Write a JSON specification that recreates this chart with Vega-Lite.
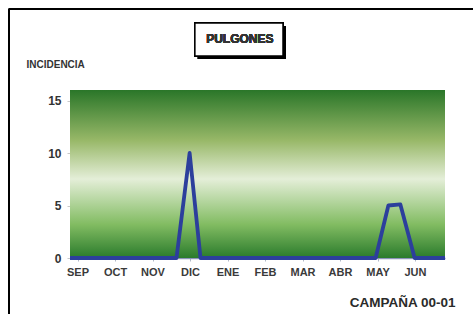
{
  "$schema": "https://vega.github.io/schema/vega-lite/v6.json",
  "width": 375,
  "height": 168,
  "autosize": {"type": "none"},
  "padding": {"left": 70, "top": 90, "right": 28, "bottom": 56},
  "background": "white",
  "config": {"view": {"stroke": null}, "font": "Liberation Sans"},
  "data": {"values": [
    {"t": -0.2, "incidencia": 0},
    {"t": 2.64, "incidencia": 0},
    {"t": 2.99, "incidencia": 10},
    {"t": 3.28, "incidencia": 0},
    {"t": 7.95, "incidencia": 0},
    {"t": 8.29, "incidencia": 5},
    {"t": 8.61, "incidencia": 5.1},
    {"t": 8.99, "incidencia": 0},
    {"t": 9.8, "incidencia": 0}
  ]},
  "layer": [
    {
      "mark": {"type": "rect", "fill": {"gradient": "linear", "x1": 0, "y1": 0, "x2": 0, "y2": 1, "stops": [
        {"offset": 0, "color": "#2a7629"},
        {"offset": 0.3, "color": "#98b868"},
        {"offset": 0.53, "color": "#e4eed8"},
        {"offset": 0.8, "color": "#82bc62"},
        {"offset": 1, "color": "#2a7b2c"}
      ]}},
      "encoding": {
        "x": {"datum": -0.2, "type": "quantitative"},
        "x2": {"datum": 9.8},
        "y": {"datum": 0, "type": "quantitative"},
        "y2": {"datum": 16}
      }
    },
    {
      "mark": {"type": "line", "color": "#2c3f9c", "strokeWidth": 3.8, "strokeJoin": "round"},
      "encoding": {
        "x": {"field": "t", "type": "quantitative",
          "scale": {"domain": [-0.2, 9.8], "nice": false, "zero": false},
          "axis": {"values": [0, 1, 2, 3, 4, 5, 6, 7, 8, 9],
            "labelExpr": "['SEP','OCT','NOV','DIC','ENE','FEB','MAR','ABR','MAY','JUN'][datum.value]",
            "grid": false, "domainColor": "#8a93b8", "domainWidth": 1.5, "tickColor": "#b0b8c8", "tickSize": 3,
            "labelFont": "Liberation Sans", "labelFontWeight": "bold", "labelFontSize": 11, "labelColor": "#3a3a3a", "labelPadding": 5,
            "title": "CAMPAÑA 00-01", "titleFont": "Liberation Sans", "titleFontSize": 13.5, "titleFontWeight": "bold", "titleColor": "#2a2a2a",
            "titleAnchor": null, "titleAlign": "right", "titleX": 385, "titleY": 44, "titleBaseline": "middle"}
        },
        "y": {"field": "incidencia", "type": "quantitative",
          "scale": {"domain": [0, 16], "nice": false},
          "axis": {"values": [0, 5, 10, 15], "grid": false, "domainColor": "#c8c8b0", "tickColor": "#c8c8c8", "tickSize": 3,
            "labelFont": "Liberation Sans", "labelFontWeight": "bold", "labelFontSize": 12, "labelColor": "#333", "labelPadding": 6,
            "title": "INCIDENCIA", "titleFont": "Liberation Sans", "titleFontSize": 10, "titleFontWeight": "bold", "titleColor": "#333",
            "titleAngle": 0, "titleAlign": "left", "titleBaseline": "middle", "titleX": -44, "titleY": -26}
        }
      }
    },
    {
      "mark": {"type": "rule", "color": "black", "strokeWidth": 1.5},
      "encoding": {
        "x": {"datum": -1.83, "type": "quantitative"},
        "y": {"datum": 23.71, "type": "quantitative"},
        "y2": {"datum": -6}
      }
    },
    {
      "mark": {"type": "rule", "color": "black", "strokeWidth": 1.5},
      "encoding": {
        "x": {"datum": -1.83, "type": "quantitative"},
        "x2": {"datum": 10.6},
        "y": {"datum": 23.71, "type": "quantitative"}
      }
    },
    {
      "mark": {"type": "rect", "fill": "black"},
      "encoding": {
        "x": {"datum": 3.21, "type": "quantitative"},
        "x2": {"datum": 5.56},
        "y": {"datum": 22.1, "type": "quantitative"},
        "y2": {"datum": 18.95}
      }
    },
    {
      "mark": {"type": "rect", "fill": "white", "stroke": "black", "strokeWidth": 1.5},
      "encoding": {
        "x": {"datum": 3.13, "type": "quantitative"},
        "x2": {"datum": 5.48},
        "y": {"datum": 22.38, "type": "quantitative"},
        "y2": {"datum": 19.24}
      }
    },
    {
      "mark": {"type": "text", "text": "PULGONES", "font": "Liberation Sans", "fontSize": 12, "fontWeight": "bold", "color": "#333", "align": "center", "baseline": "middle"},
      "encoding": {
        "x": {"datum": 4.33, "type": "quantitative"},
        "y": {"datum": 20.9, "type": "quantitative"}
      }
    }
  ]
}
